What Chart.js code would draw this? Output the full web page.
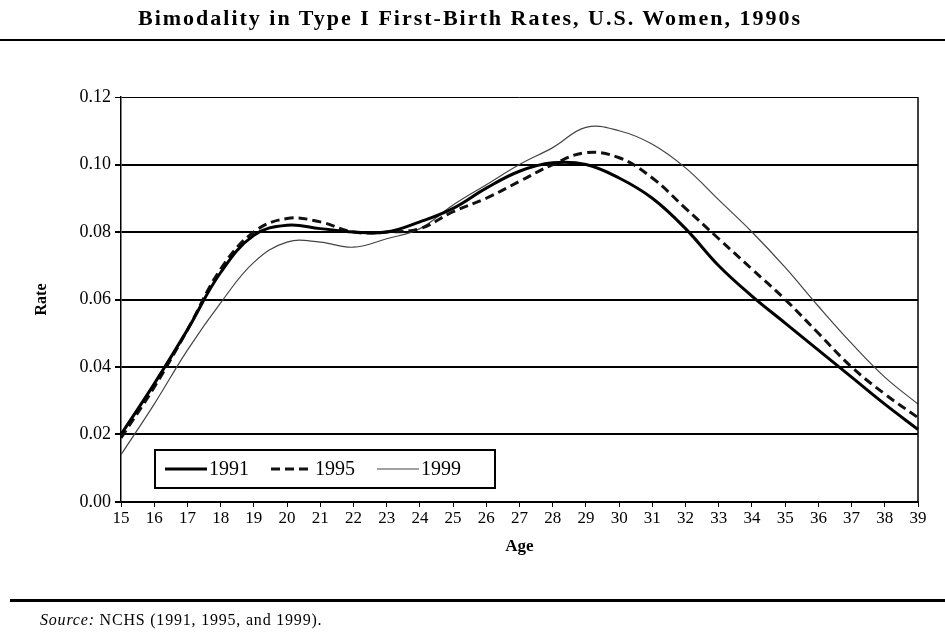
<!DOCTYPE html>
<html lang="en">
<head>
    <meta charset="UTF-8">
    <title>Bimodality in Type I First-Birth Rates</title>
    <script src="https://cdn.jsdelivr.net/npm/chart.js"></script>
    <style>
        body { margin: 0; background: #fff; font-family: "Liberation Serif", "DejaVu Serif", serif; }
        #page { position: relative; width: 945px; height: 637px; overflow: hidden; }
        #title { position: absolute; top: 5px; left: 0; width: 940px; text-align: center;
                 font-size: 22px; font-weight: bold; letter-spacing: 2px; }
        .rule { position: absolute; left: 0; width: 945px; background: #000; }
        #source { position: absolute; left: 40px; top: 611px; font-size: 16px; letter-spacing: 0.8px; }
        #wrap { position: absolute; left: 0; top: 0; width: 945px; height: 637px; }
    </style>
</head>
<body>
<div id="page">
    <div id="wrap"><canvas id="chart"></canvas></div>
    <div id="title">Bimodality in Type I First-Birth Rates, U.S. Women, 1990s</div>
    <div class="rule" style="top:39px;height:2px;"></div>
    <div class="rule" style="top:599px;height:3px;left:10px;"></div>
    <div id="source"><i>Source:</i> NCHS (1991, 1995, and 1999).</div>
</div>

<script>
    // ages on the x axis
    const ages = ['15','16','17','18','19','20','21','22','23','24','25','26','27',
                  '28','29','30','31','32','33','34','35','36','37','38','39'];

    const rate1991 = [0.020,0.035,0.051,0.068,0.079,0.082,0.081,0.080,0.080,0.083,0.087,0.093,0.098,
                      0.1005,0.100,0.096,0.090,0.081,0.070,0.061,0.053,0.045,0.037,0.029,0.0215];
    const rate1995 = [0.019,0.034,0.051,0.069,0.080,0.084,0.083,0.080,0.080,0.081,0.086,0.090,0.095,
                      0.100,0.1035,0.102,0.096,0.087,0.078,0.069,0.060,0.050,0.040,0.032,0.025];
    const rate1999 = [0.014,0.029,0.045,0.059,0.071,0.077,0.077,0.0755,0.078,0.081,0.088,0.094,0.100,
                      0.105,0.111,0.110,0.106,0.099,0.0895,0.080,0.0695,0.058,0.047,0.037,0.029];

    const yTicks = [0, 0.02, 0.04, 0.06, 0.08, 0.10, 0.12];

    const serif = '"Liberation Serif", "DejaVu Serif", serif';

    // legend box drawn inside the plot + right frame line
    const framePlugin = {
        id: 'frame',
        afterDraw(chart) {
            const c = chart.ctx;
            const a = chart.chartArea;
            c.save();
            c.strokeStyle = '#000';
            c.lineWidth = 1.5;
            c.beginPath();
            c.moveTo(a.right, a.top);
            c.lineTo(a.right, a.bottom);
            c.stroke();

            const bx = a.left + 34, by = a.bottom - 52, bw = 340, bh = 38;
            c.fillStyle = '#fff';
            c.fillRect(bx, by, bw, bh);
            c.lineWidth = 2;
            c.strokeRect(bx, by, bw, bh);

            c.font = '20px ' + serif;
            c.textBaseline = 'middle';
            c.fillStyle = '#000';
            let x = bx + 10;
            const y = by + bh / 2;
            chart.data.datasets.forEach(ds => {
                c.beginPath();
                c.setLineDash(ds.borderDash || []);
                c.lineWidth = ds.borderWidth;
                c.strokeStyle = ds.borderColor;
                c.moveTo(x, y);
                c.lineTo(x + 42, y);
                c.stroke();
                c.setLineDash([]);
                c.fillText(ds.label, x + 44, y + 1);
                x += 44 + c.measureText(ds.label).width + 22;
            });
            c.restore();
        }
    };

    new Chart(document.getElementById('chart'), {
        type: 'line',
        data: {
            labels: ages,
            datasets: [
                { label: '1991', data: rate1991, borderColor: '#000', borderWidth: 3,
                  pointRadius: 0, tension: 0.4, fill: false },
                { label: '1995', data: rate1995, borderColor: '#111', borderWidth: 3,
                  borderDash: [9, 5], pointRadius: 0, tension: 0.4, fill: false },
                { label: '1999', data: rate1999, borderColor: '#444', borderWidth: 1.2,
                  pointRadius: 0, tension: 0.4, fill: false }
            ]
        },
        options: {
            responsive: true,
            maintainAspectRatio: false,
            animation: false,
            layout: { padding: { top: 97, right: 27, bottom: 75, left: 0 } },
            plugins: { legend: { display: false }, tooltip: { enabled: false } },
            scales: {
                x: {
                    afterFit: s => { s.height = 60; },
                    grid: { drawOnChartArea: false, drawTicks: true, tickLength: 5, color: '#000' },
                    border: { display: true, color: '#000', width: 2 },
                    ticks: { color: '#000', font: { family: serif, size: 17 }, maxRotation: 0,
                             autoSkip: false, padding: 1 },
                    title: { display: true, text: 'Age', color: '#000',
                             font: { family: serif, size: 17, weight: 'bold' },
                             padding: { top: 0, bottom: 5 } }
                },
                y: {
                    min: 0,
                    max: 0.12,
                    afterFit: s => { s.width = 121; },
                    afterBuildTicks: s => { s.ticks = yTicks.map(v => ({ value: v })); },
                    grid: { color: '#000', tickLength: 6,
                            lineWidth: ctx => (ctx.tick && ctx.tick.value >= 0.119) ? 1 : 2 },
                    border: { display: true, color: '#000', width: 1.5 },
                    ticks: { color: '#000', font: { family: serif, size: 18 }, padding: 4,
                             callback: v => Number(v).toFixed(2) },
                    title: { display: true, text: 'Rate', color: '#000',
                             font: { family: serif, size: 16, weight: 'bold' },
                             padding: { top: 32, bottom: 0 } }
                }
            }
        },
        plugins: [framePlugin]
    });
</script>
</body>
</html>
